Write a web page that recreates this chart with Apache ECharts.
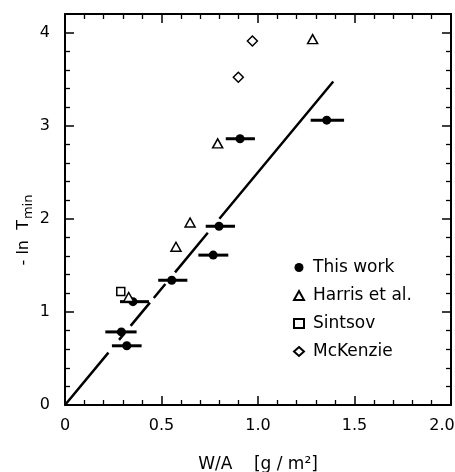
<!DOCTYPE html>
<html>
<head>
<meta charset="utf-8">
<script src="https://cdn.jsdelivr.net/npm/echarts@6/dist/echarts.min.js"></script>
<style>
html,body{margin:0;padding:0;background:#fff;}
#chart{width:455px;height:472px;}
</style>
</head>
<body>
<div id="chart"></div>
<script>
// this work: points with horizontal error bars
var workX = [1.356, 0.907, 0.798, 0.768, 0.553, 0.352, 0.292, 0.320];
var workY = [3.06, 2.86, 1.92, 1.61, 1.34, 1.11, 0.785, 0.636];
var workXLo = [1.273, 0.833, 0.729, 0.691, 0.483, 0.285, 0.209, 0.243];
var workXHi = [1.446, 0.984, 0.881, 0.846, 0.634, 0.435, 0.371, 0.397];
// other authors
var harrisX = [1.283, 0.791, 0.648, 0.575, 0.330];
var harrisY = [3.93, 2.81, 1.96, 1.70, 1.16];
var sintsovX = [0.289];
var sintsovY = [1.22];
var mckenzieX = [0.971, 0.898];
var mckenzieY = [3.91, 3.52];
// fitted line y = slope * x, drawn in pieces (gaps round the markers)
var fitSlope = 2.5;
var fitPieces = [[0, 0.225], [0.28, 0.31], [0.34, 0.44], [0.46, 0.52], [0.57, 0.74], [0.80, 1.39]];
var xTicks = ['0', '0.5', '1.0', '1.5', '2.0'];

var FONT = 'DejaVu Sans';

function pairs(xs, ys) {
	var out = [];
	for (var i = 0; i < xs.length; i++) out.push([xs[i], ys[i]]);
	return out;
}

var fitData = [];
for (var i = 0; i < fitPieces.length; i++) {
	var a = fitPieces[i][0], b = fitPieces[i][1];
	fitData.push([a, fitSlope * a]);
	fitData.push([b, fitSlope * b]);
	fitData.push([b, '-']);
}

var errData = [];
for (var i = 0; i < workX.length; i++) {
	errData.push([workX[i], workY[i], workXLo[i], workXHi[i]]);
}

/** frame axis: line, inward ticks, minor ticks */
function frameAxis(opt) {
	var base = {
		type: 'value',
		axisLine: {show: true, onZero: false, lineStyle: {color: '#000', width: 2}},
		axisTick: {show: true, inside: true, length: 9, lineStyle: {color: '#000', width: 1.5}},
		minorTick: {show: true, splitNumber: 5, length: 5, lineStyle: {color: '#000', width: 1.3}},
		splitLine: {show: false},
		axisLabel: {show: false}
	};
	for (var k in opt) base[k] = opt[k];
	return base;
}

var chart = echarts.init(document.getElementById('chart'));
chart.setOption({
	animation: false,
	backgroundColor: '#fff',
	grid: {left: 65, right: 4, top: 14, bottom: 67, outerBoundsMode: 'none', containLabel: false},
	xAxis: [frameAxis({
		min: 0, max: 2, interval: 0.5, position: 'bottom',
		axisLabel: {
			color: '#000', fontFamily: FONT, fontSize: 16, margin: 13,
			formatter: function (v) {
				var i = Math.round(v * 2);
				// last label pulled in a little so it stays on the page
				return i === xTicks.length - 1 ? '{last|' + xTicks[i] + '}' : xTicks[i];
			},
			rich: {last: {color: '#000', fontFamily: FONT, fontSize: 16, padding: [0, 18, 0, 0]}}
		},
		name: 'W/A    [g / m²]',
		nameLocation: 'middle', nameGap: 51,
		nameTextStyle: {color: '#000', fontFamily: FONT, fontSize: 17}
	}), frameAxis({
		min: 0, max: 2, interval: 0.5, position: 'top'
	})],
	yAxis: [frameAxis({
		min: 0, max: 4.2, interval: 1, position: 'left',
		axisLabel: {color: '#000', fontFamily: FONT, fontSize: 16, margin: 15, showMaxLabel: false}
	}), frameAxis({
		min: 0, max: 4.2, interval: 1, position: 'right'
	})],
	legend: {
		orient: 'vertical', left: 288, top: 253,
		itemWidth: 10, itemHeight: 9, itemGap: 9,
		textStyle: {color: '#000', fontFamily: FONT, fontSize: 17, lineHeight: 19, padding: [0, 0, 0, 4]},
		data: [
			{name: 'This work', icon: 'circle'},
			{name: 'Harris et al.', icon: 'triangle'},
			{name: 'Sintsov', icon: 'rect'},
			{name: 'McKenzie', icon: 'diamond'}
		]
	},
	graphic: [{
		type: 'text', x: 24, y: 230, rotation: Math.PI / 2,
		style: {
			text: '- ln  T{sub|min}',
			fill: '#000', font: '16px "DejaVu Sans"',
			align: 'center', verticalAlign: 'middle',
			rich: {sub: {fontSize: 13, fontFamily: FONT, fill: '#000', padding: [9, 0, 0, 1]}}
		}
	}],
	series: [{
		name: 'fit', type: 'line', data: fitData, showSymbol: false, symbol: 'none',
		connectNulls: false, silent: true,
		lineStyle: {color: '#000', width: 2.5}
	}, {
		name: 'errbar', type: 'custom', data: errData,
		encode: {x: [0, 2, 3], y: 1},
		renderItem: function (params, api) {
			var y = api.value(1);
			var p1 = api.coord([api.value(2), y]);
			var p2 = api.coord([api.value(3), y]);
			return {
				type: 'line',
				shape: {x1: p1[0], y1: p1[1], x2: p2[0], y2: p2[1]},
				style: {stroke: '#000', lineWidth: 3}
			};
		}
	}, {
		name: 'This work', type: 'scatter', data: pairs(workX, workY),
		symbol: 'circle', symbolSize: 9,
		itemStyle: {color: '#000', opacity: 1}
	}, {
		name: 'Harris et al.', type: 'scatter', data: pairs(harrisX, harrisY),
		symbol: 'triangle', symbolSize: [10, 9],
		itemStyle: {color: '#fff', borderColor: '#000', borderWidth: 1.5, opacity: 1}
	}, {
		name: 'Sintsov', type: 'scatter', data: pairs(sintsovX, sintsovY),
		symbol: 'rect', symbolSize: 8,
		itemStyle: {color: '#fff', borderColor: '#000', borderWidth: 1.5, opacity: 1}
	}, {
		name: 'McKenzie', type: 'scatter', data: pairs(mckenzieX, mckenzieY),
		symbol: 'diamond', symbolSize: 10,
		itemStyle: {color: '#fff', borderColor: '#000', borderWidth: 1.5, opacity: 1}
	}]
});
</script>
</body>
</html>
